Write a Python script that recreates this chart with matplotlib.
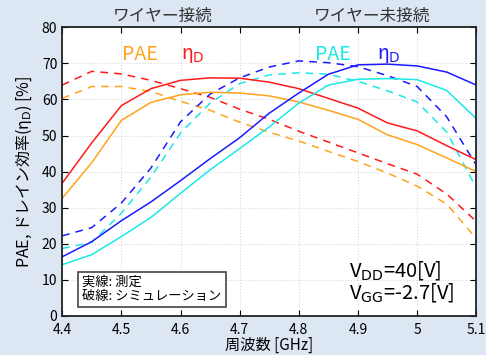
import numpy as np
import matplotlib
matplotlib.use("Agg")
import matplotlib.pyplot as plt

plt.rcParams['font.family'] = ['Noto Sans CJK JP', 'DejaVu Sans']
plt.rcParams['mathtext.fontset'] = 'dejavusans'

# 周波数 [GHz]
freq = [4.40, 4.45, 4.50, 4.55, 4.60, 4.65, 4.70, 4.75, 4.80, 4.85, 4.90, 4.95, 5.00, 5.05, 5.10]

# ワイヤー接続 (測定)
eta_wire_meas = [36.8, 48.0, 58.3, 63.0, 65.3, 66.0, 65.9, 64.8, 63.0, 60.3, 57.6, 53.5, 51.3, 47.2, 43.3]
pae_wire_meas = [32.6, 42.5, 54.2, 59.2, 61.3, 62.0, 61.8, 61.0, 59.3, 57.0, 54.5, 50.2, 47.5, 43.8, 40.0]
# ワイヤー接続 (シミュレーション)
eta_wire_sim = [64.0, 67.8, 67.1, 65.3, 63.0, 60.6, 57.3, 54.5, 51.2, 48.2, 45.2, 42.2, 39.3, 33.8, 26.2]
pae_wire_sim = [60.3, 63.6, 63.6, 62.2, 59.5, 57.0, 53.7, 50.9, 48.5, 45.6, 42.8, 39.6, 36.0, 31.0, 21.5]

# ワイヤー未接続 (測定)
eta_nowire_meas = [16.4, 20.6, 26.4, 31.6, 37.5, 43.6, 49.4, 56.2, 61.8, 67.0, 69.6, 69.8, 69.3, 67.6, 64.0]
pae_nowire_meas = [14.2, 17.0, 22.0, 27.3, 34.0, 40.5, 46.4, 52.4, 59.0, 64.0, 65.6, 65.8, 65.5, 62.5, 54.7]
# ワイヤー未接続 (シミュレーション)
eta_nowire_sim = [22.2, 24.5, 31.3, 41.0, 53.8, 61.5, 66.0, 69.0, 70.7, 70.2, 69.1, 66.6, 63.6, 55.2, 41.8]
pae_nowire_sim = [18.7, 20.4, 28.5, 38.5, 50.7, 59.0, 64.4, 66.8, 67.4, 67.0, 65.0, 62.4, 59.3, 51.0, 35.5]

xticks = [4.4, 4.5, 4.6, 4.7, 4.8, 4.9, 5.0, 5.1]
xticklabels = ['4.4', '4.5', '4.6', '4.7', '4.8', '4.9', '5', '5.1']

c_red = '#ff1a1a'
c_orange = '#ffa31a'
c_cyan = '#1ae8e8'
c_blue = '#1a1aff'
dash = (0, (5, 4))

fig = plt.figure(figsize=(4.86, 3.55), dpi=100, facecolor='#dde7f3')
ax = fig.add_axes([0.128, 0.110, 0.852, 0.813])

ax.plot(freq, pae_wire_sim, color=c_orange, lw=1.1, linestyle=dash)
ax.plot(freq, eta_wire_sim, color=c_red, lw=1.1, linestyle=dash)
ax.plot(freq, pae_nowire_sim, color=c_cyan, lw=1.1, linestyle=dash)
ax.plot(freq, eta_nowire_sim, color=c_blue, lw=1.1, linestyle=dash)
ax.plot(freq, pae_wire_meas, color=c_orange, lw=1.1)
ax.plot(freq, eta_wire_meas, color=c_red, lw=1.1)
ax.plot(freq, pae_nowire_meas, color=c_cyan, lw=1.1)
ax.plot(freq, eta_nowire_meas, color=c_blue, lw=1.1)

ax.set_xlim(4.4, 5.1)
ax.set_ylim(0, 80)
ax.set_xticks(xticks)
ax.set_xticklabels(xticklabels)
ax.set_yticks(np.arange(0, 81, 10))
ax.tick_params(direction='in', labelsize=10, length=4, top=True, right=True)
ax.tick_params(axis='x', pad=5)
ax.grid(True, color='#d8d8d8', linestyle=':', linewidth=0.8)
for s in ax.spines.values():
    s.set_linewidth(1.3)
    s.set_color('#222222')

ax.set_xlabel('周波数 [GHz]', fontsize=11, labelpad=0)
ax.set_ylabel('PAE, ドレイン効率(η$_\\mathrm{D}$) [%]', fontsize=11.5, labelpad=6)

fig.text(0.335, 0.955, 'ワイヤー接続', ha='center', va='center', fontsize=12, color='#333333')
fig.text(0.765, 0.955, 'ワイヤー未接続', ha='center', va='center', fontsize=12, color='#333333')

ax.text(4.532, 72.6, 'PAE', color=c_orange, fontsize=14, ha='center', va='center')
ax.text(4.621, 72.6, 'η$_\\mathrm{D}$', color=c_red, fontsize=14, ha='center', va='center')
ax.text(4.858, 72.6, 'PAE', color=c_cyan, fontsize=14, ha='center', va='center')
ax.text(4.953, 72.6, 'η$_\\mathrm{D}$', color=c_blue, fontsize=14, ha='center', va='center')

ax.text(4.434, 7.4, '実線: 測定\n破線: シミュレーション', fontsize=9.5, ha='left', va='center',
        linespacing=1.1,
        bbox=dict(boxstyle='square,pad=0.3', facecolor='white', edgecolor='#444444', linewidth=1.2))

ax.text(4.884, 12.7, 'V$_\\mathrm{DD}$=40[V]', fontsize=14.5, ha='left', va='center')
ax.text(4.884, 6.6, 'V$_\\mathrm{GG}$=-2.7[V]', fontsize=14.5, ha='left', va='center')

fig.savefig('out.png', dpi=100, facecolor=fig.get_facecolor())
